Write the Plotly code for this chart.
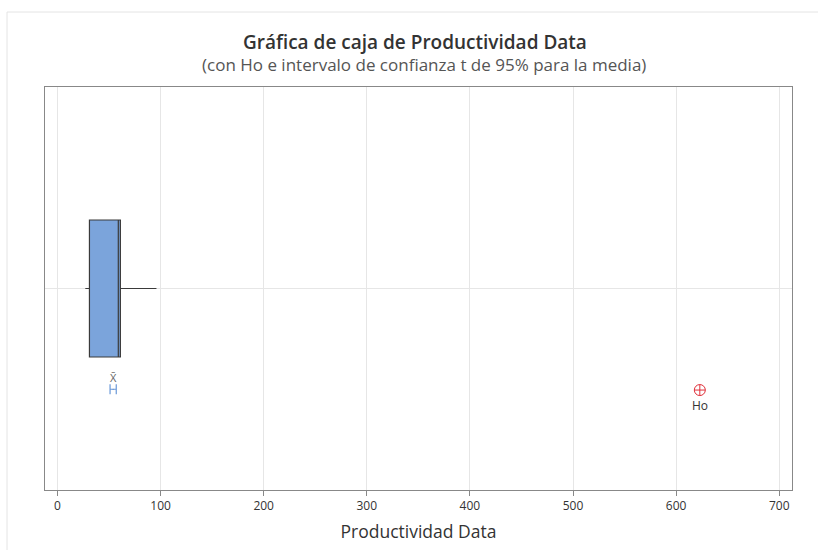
import plotly.graph_objects as go

# Data
box_stats = {"lowerfence": 27, "q1": 31, "median": 59, "q3": 61, "upperfence": 96}
mean_val = 54
ci_low, ci_high = 51, 57
ho_val = 623
x_ticks = [0, 100, 200, 300, 400, 500, 600, 700]
title_text = "Gráfica de caja de Productividad Data"
subtitle_text = "(con Ho e intervalo de confianza t de 95% para la media)"
x_title = "Productividad Data"

FONT = "Open Sans"
fig = go.Figure()

fig.add_trace(go.Box(
    y=[0.5],
    q1=[box_stats["q1"]], median=[box_stats["median"]], q3=[box_stats["q3"]],
    lowerfence=[box_stats["lowerfence"]], upperfence=[box_stats["upperfence"]],
    orientation="h", width=0.34, whiskerwidth=0,
    fillcolor="#7BA4DB", line=dict(color="#3A3A3A", width=1.2),
    boxpoints=False, showlegend=False, hoverinfo="skip",
))

# CI for mean
fig.add_trace(go.Scatter(
    x=[mean_val], y=[0.25], mode="markers",
    marker=dict(size=1, color="#4A7FC8"),
    error_x=dict(type="data", symmetric=False, array=[ci_high - mean_val],
                 arrayminus=[mean_val - ci_low], color="#6A98D8", thickness=1.2, width=5),
    showlegend=False, hoverinfo="skip",
))
fig.add_annotation(x=mean_val, y=0.278, text="X̄", showarrow=False,
                   font=dict(family=FONT, size=11, color="#666666"))

# Ho
fig.add_trace(go.Scatter(
    x=[ho_val], y=[0.248], mode="markers",
    marker=dict(symbol="circle-cross-open", size=11, color="#E0303A", line=dict(width=1)),
    showlegend=False, hoverinfo="skip",
))
fig.add_annotation(x=ho_val, y=0.21, text="Ho", showarrow=False,
                   font=dict(family=FONT, size=12, color="#333333"))

# titles
fig.add_annotation(xref="paper", yref="paper", x=(415 - 45) / 747, y=1 + (87 - 42) / 403,
                   text=title_text, showarrow=False, xanchor="center", yanchor="middle",
                   font=dict(family=FONT, size=19, color="#333333", weight=600))
fig.add_annotation(xref="paper", yref="paper", x=(424 - 45) / 747, y=1 + (87 - 65) / 403,
                   text=subtitle_text, showarrow=False, xanchor="center", yanchor="middle",
                   font=dict(family=FONT, size=17, color="#555555"))

# outer frame
fig.add_shape(type="rect", xref="paper", yref="paper",
              x0=(7 - 45) / 747, x1=(830 - 45) / 747,
              y0=-(560 - 490) / 403, y1=1 + (87 - 12) / 403,
              line=dict(color="#E4E4E4", width=1), layer="below")

fig.update_layout(
    width=818, height=550,
    margin=dict(l=45, r=26, t=87, b=60),
    paper_bgcolor="white", plot_bgcolor="white",
    xaxis=dict(
        range=[-12.1, 712.4], tickvals=x_ticks, ticktext=[str(v) for v in x_ticks],
        showgrid=True, gridcolor="#E6E6E6", gridwidth=1,
        showline=True, linecolor="#888888", linewidth=1, mirror=True,
        ticks="outside", ticklen=5, tickcolor="#888888",
        tickfont=dict(family=FONT, size=12, color="#333333"),
        title=dict(text=x_title, font=dict(family=FONT, size=17.5, color="#333333"), standoff=12),
        zeroline=False,
    ),
    yaxis=dict(
        range=[0, 1], tickvals=[0.5], showticklabels=False, ticks="",
        showgrid=True, gridcolor="#E6E6E6",
        showline=True, linecolor="#888888", linewidth=1, mirror=True, zeroline=False,
    ),
)

fig.write_html("out.html", config={"displayModeBar": False},
               post_script="document.body.style.margin='0';document.body.style.overflow='hidden';")
